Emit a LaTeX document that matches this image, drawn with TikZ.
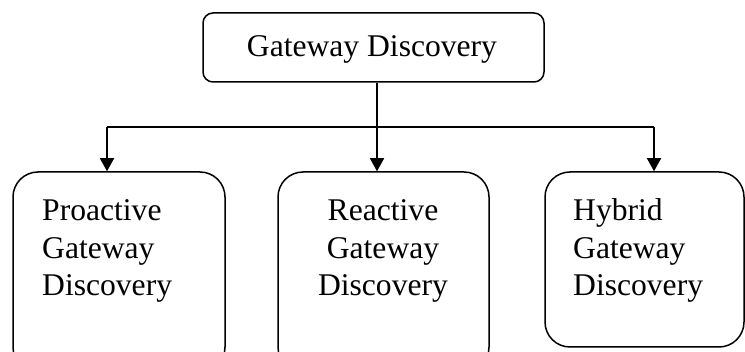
\documentclass[tikz,border=0pt]{standalone}
\usepackage{fontspec}
\setmainfont{Liberation Serif}
\usetikzlibrary{arrows.meta,calc}
\begin{document}
\begin{tikzpicture}[x=1pt,y=-1pt,
  box/.style={draw, line width=1.5pt, rounded corners=25pt, inner sep=0pt},
  topbox/.style={draw, line width=1.5pt, rounded corners=10pt, minimum width=341pt, minimum height=69pt, inner sep=0pt},
  txt/.style={font=\fontsize{31.6}{37.5}\selectfont, inner sep=0pt},
  conn/.style={line width=1.5pt},
  arr/.style={conn, -{Triangle[width=14pt,length=13pt]}}]
\useasboundingbox (0,0) rectangle (745,352);
\clip (0,0) rectangle (745,352);
\node[topbox] (top) at (373.5,47.5) {};
\node[txt, anchor=base] (toptxt) at (372,57) {Gateway Discovery};
\node[box, minimum width=212pt, minimum height=200pt] (L) at (119,272) {};
\node[box, minimum width=211pt, minimum height=200pt] (M) at (383.5,272) {};
\node[box, minimum width=199pt, minimum height=175pt] (R) at (644.5,259.5) {};
\node[txt, align=left, anchor=base west] (Lt) at (42,296) {Proactive\\Gateway\\Discovery};
\node[txt, align=center, anchor=base] (Mt) at (383,296) {Reactive\\Gateway\\Discovery};
\node[txt, align=left, anchor=base west] (Rt) at (573,296) {Hybrid\\Gateway\\Discovery};
\coordinate (aL) at (107,127);
\coordinate (aM) at (377,127);
\coordinate (aR) at (654,127);
\draw[conn] (aL) -- (aR);
\draw[arr] (aL) -- (aL |- L.north);
\draw[arr] (aM |- top.south) -- (aM |- M.north);
\draw[arr] (aR) -- (aR |- R.north);
\end{tikzpicture}
\end{document}
